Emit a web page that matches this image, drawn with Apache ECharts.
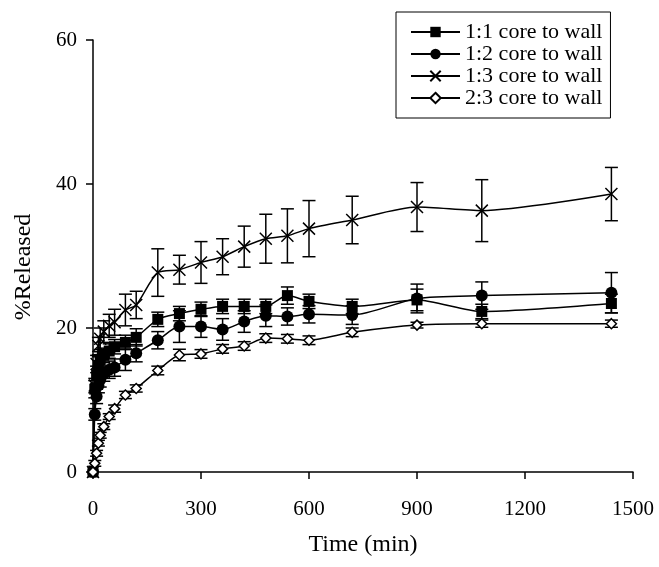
<!DOCTYPE html>
<html><head><meta charset="utf-8">
<script src="https://cdn.jsdelivr.net/npm/echarts@6/dist/echarts.min.js"></script>
<style>html,body{margin:0;padding:0;background:#fff}#c{width:659px;height:567px}</style>
</head><body><div id="c"></div>
<script>
const times = [0, 5, 10, 15, 20, 30, 45, 60, 90, 120, 180, 240, 300, 360, 420, 480, 540, 600, 720, 900, 1080, 1440];
const xTicks = [0, 300, 600, 900, 1200, 1500];
const yTicks = [0, 20, 40, 60];
const seriesNames = ['1:1 core to wall', '1:2 core to wall', '1:3 core to wall', '2:3 core to wall'];

const r11 = [0, 11.5, 13.5, 14.8, 15.5, 16.2, 16.8, 17.4, 18.0, 18.7, 21.2, 22.0, 22.6, 23.0, 23.0, 23.0, 24.5, 23.7, 23.0, 23.9, 22.3, 23.4];
const e11 = [0, 1.2, 1.2, 1.2, 1.2, 1.0, 1.0, 1.0, 1.0, 1.2, 1.0, 1.0, 1.0, 1.0, 1.0, 1.0, 1.2, 1.0, 1.0, 1.5, 1.0, 1.3];

const r12 = [0, 8.0, 10.5, 12.0, 12.8, 13.6, 14.2, 14.5, 15.6, 16.5, 18.3, 20.2, 20.2, 19.8, 20.9, 21.7, 21.6, 21.9, 21.8, 24.1, 24.5, 24.9];
const e12 = [0, 0.8, 1.0, 1.0, 1.0, 1.0, 1.2, 1.2, 1.5, 1.2, 1.2, 2.2, 1.5, 1.5, 1.5, 1.5, 1.2, 1.2, 1.3, 2.0, 1.9, 2.8];

const r13 = [0, 12.0, 15.0, 17.5, 18.5, 19.5, 20.3, 20.8, 22.5, 23.2, 27.7, 28.1, 29.1, 29.9, 31.3, 32.4, 32.8, 33.8, 35.0, 36.8, 36.3, 38.6];
const e13 = [0, 1.0, 1.2, 1.2, 1.5, 1.5, 1.6, 1.8, 2.2, 1.9, 3.3, 2.0, 2.9, 2.5, 2.85, 3.4, 3.75, 3.9, 3.3, 3.4, 4.3, 3.7];

const r23 = [0, 1.2, 2.6, 4.0, 5.1, 6.3, 7.7, 8.8, 10.7, 11.6, 14.1, 16.25, 16.4, 17.1, 17.5, 18.6, 18.5, 18.3, 19.4, 20.4, 20.6, 20.6];
const e23 = [0, 0.4, 0.4, 0.4, 0.4, 0.4, 0.4, 0.5, 0.5, 0.5, 0.6, 0.8, 0.6, 0.6, 0.6, 0.6, 0.6, 0.6, 0.6, 0.4, 0.5, 0.5];

const FONT = 'Liberation Serif';
const chart = echarts.init(document.getElementById('c'), null, {renderer: 'canvas'});

function errSeries(name, vals, errs) {
  const data = [];
  times.forEach((t, i) => { if (errs[i] > 0) data.push([t, vals[i] - errs[i], vals[i] + errs[i]]); });
  return {
    type: 'custom', name: name + ' err', data: data, silent: true, z: 3,
    renderItem: function (params, api) {
      const x = api.value(0);
      const lo = api.coord([x, api.value(1)]);
      const hi = api.coord([x, api.value(2)]);
      const w = 6.5;
      const st = {stroke: '#000', lineWidth: 1.5};
      return {type: 'group', children: [
        {type: 'line', shape: {x1: lo[0], y1: lo[1], x2: hi[0], y2: hi[1]}, style: st},
        {type: 'line', shape: {x1: lo[0] - w, y1: lo[1], x2: lo[0] + w, y2: lo[1]}, style: st},
        {type: 'line', shape: {x1: hi[0] - w, y1: hi[1], x2: hi[0] + w, y2: hi[1]}, style: st}
      ]};
    }
  };
}

function lineSeries(name, vals, symbol, size, itemStyle) {
  return {
    type: 'line', name: name, data: times.map((t, i) => [t, vals[i]]),
    smooth: 0.25, symbol: symbol, symbolSize: size, showAllSymbol: true,
    lineStyle: {color: '#000', width: 1.5},
    itemStyle: itemStyle, z: 4
  };
}

const crossPath = 'path://M0,0L10,10M10,0L0,10';

chart.setOption({
  animation: false,
  backgroundColor: '#fff',
  textStyle: {fontFamily: FONT, color: '#000'},
  grid: {left: 93, right: 26, top: 40, bottom: 95},
  legend: {
    orient: 'vertical', left: 396, top: 12,
    borderColor: '#000', borderWidth: 1, padding: [9, 8, 9, 14],
    itemGap: 0, itemWidth: 49, itemHeight: 13,
    textStyle: {fontFamily: FONT, fontSize: 22, lineHeight: 21, color: '#000'},
    data: seriesNames
  },
  xAxis: {
    type: 'value', min: xTicks[0], max: xTicks[xTicks.length - 1], interval: xTicks[1] - xTicks[0],
    name: 'Time (min)', nameLocation: 'middle', nameGap: 61,
    nameTextStyle: {fontFamily: FONT, fontSize: 24, color: '#000'},
    axisLine: {lineStyle: {color: '#000', width: 1.5}},
    axisTick: {inside: false, length: 7, lineStyle: {color: '#000', width: 1.5}},
    axisLabel: {margin: 27, fontFamily: FONT, fontSize: 21, color: '#000', formatter: v => String(v)},
    splitLine: {show: false}
  },
  yAxis: {
    type: 'value', min: yTicks[0], max: yTicks[yTicks.length - 1], interval: yTicks[1] - yTicks[0],
    name: '%Released', nameLocation: 'middle', nameGap: 57, nameRotate: 90,
    nameTextStyle: {fontFamily: FONT, fontSize: 24, color: '#000', padding: [0, 22, 0, 0]},
    axisLine: {show: true, lineStyle: {color: '#000', width: 1.5}},
    axisTick: {show: true, inside: false, length: 7, lineStyle: {color: '#000', width: 1.5}},
    axisLabel: {margin: 16, fontFamily: FONT, fontSize: 21, color: '#000', formatter: v => String(v)},
    splitLine: {show: false}
  },
  series: [
    errSeries(seriesNames[0], r11, e11),
    errSeries(seriesNames[1], r12, e12),
    errSeries(seriesNames[2], r13, e13),
    errSeries(seriesNames[3], r23, e23),
    lineSeries(seriesNames[0], r11, 'rect', 11, {color: '#000'}),
    lineSeries(seriesNames[1], r12, 'circle', 12, {color: '#000'}),
    lineSeries(seriesNames[2], r13, crossPath, 12, {color: '#000', borderColor: '#000', borderWidth: 1.5}),
    lineSeries(seriesNames[3], r23, 'diamond', 10, {color: '#fff', borderColor: '#000', borderWidth: 1.5})
  ]
});
</script>
</body></html>
